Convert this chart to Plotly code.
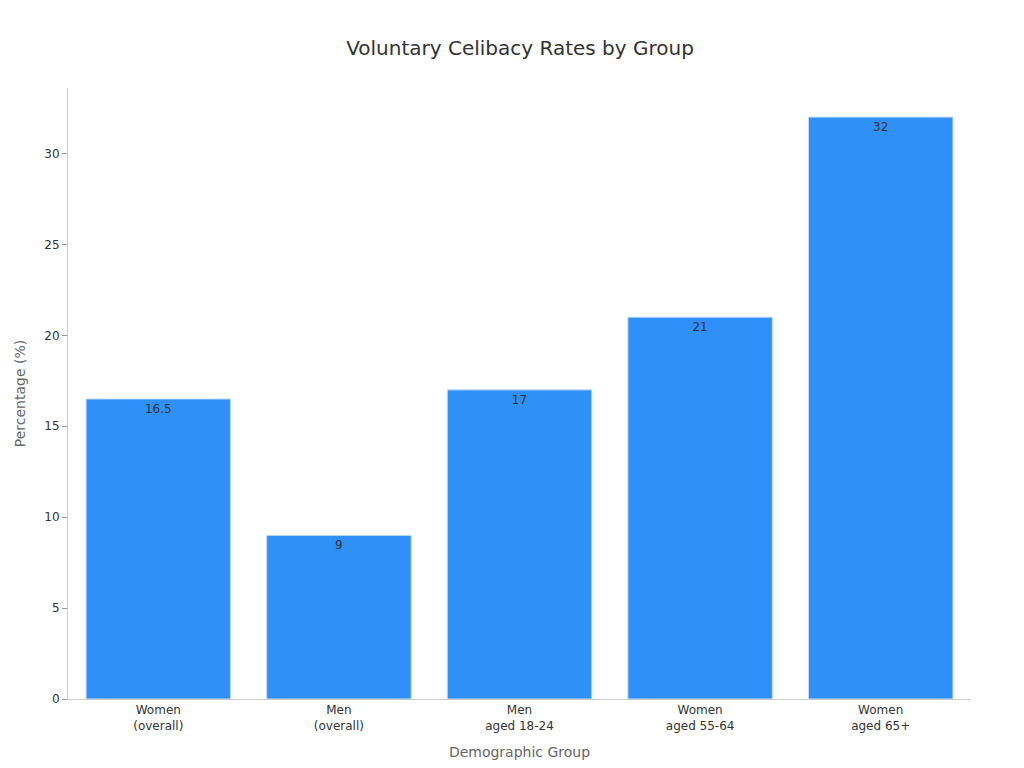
import plotly.graph_objects as go

categories = ["Women<br>(overall)", "Men<br>(overall)", "Men<br>aged 18-24", "Women<br>aged 55-64", "Women<br>aged 65+"]
values = [16.5, 9, 17, 21, 32]
labels = ["16.5", "9", "17", "21", "32"]

fig = go.Figure(go.Bar(
    x=categories, y=values, text=labels, textposition="inside", insidetextanchor="end",
    textfont=dict(color="#333333", size=12),
    marker=dict(color="#2E90F8", line=dict(color="#c8dcf5", width=1)),
    width=0.8,
))
fig.update_layout(
    width=1024, height=768,
    font=dict(family="DejaVu Sans", size=12, color="#333333"),
    title=dict(text="Voluntary Celibacy Rates by Group", x=0.5, y=0.957, xanchor="center",
               font=dict(size=20, color="#333333")),
    plot_bgcolor="white", paper_bgcolor="white",
    margin=dict(l=60, r=61, t=80, b=77),
    showlegend=False,
    xaxis=dict(title=dict(text="Demographic Group", font=dict(size=14, color="#666666")),
               showline=True, linecolor="#cccccc", showgrid=False, ticks=""),
    yaxis=dict(title=dict(text="Percentage (%)", font=dict(size=14, color="#666666")),
               range=[0, 33.6], dtick=5, showline=True, linecolor="#cccccc",
               showgrid=False, ticks="outside", tickcolor="#999999", ticklen=5, zeroline=False),
)
fig.write_html("out.html")
